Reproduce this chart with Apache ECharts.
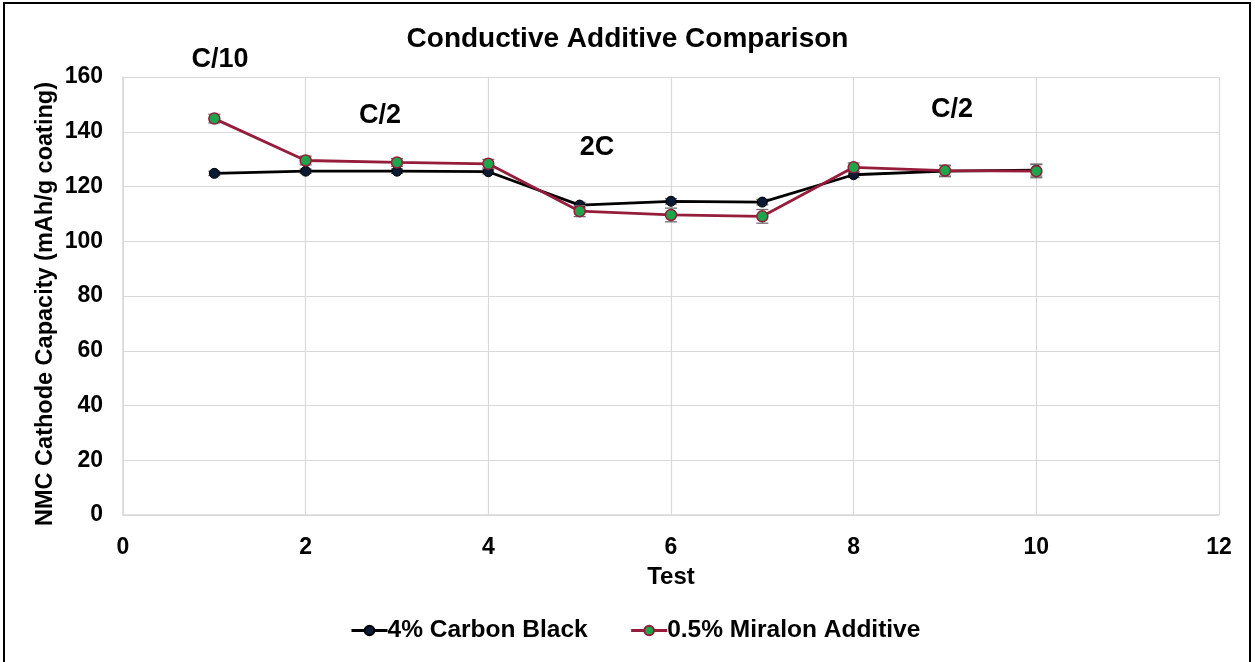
<!DOCTYPE html>
<html>
<head>
<meta charset="utf-8">
<script src="https://cdn.jsdelivr.net/npm/echarts@6/dist/echarts.min.js"></script>
<style>
  html, body { margin: 0; padding: 0; background: #fff; }
  #chart { width: 1255px; height: 662px; }
</style>
</head>
<body>
<div id="chart"></div>
<script>
// test number
var tests = [1, 2, 3, 4, 5, 6, 7, 8, 9, 10];
// 4% Carbon Black
var carbonBlack = [124.8, 125.6, 125.6, 125.4, 113.2, 114.6, 114.3, 124.3, 125.6, 126.0];
var carbonBlackErr = [0.8, 0.8, 0.8, 0.8, 1.0, 1.0, 1.0, 1.0, 2.0, 2.2];
// 0.5% Miralon Additive
var miralon = [144.8, 129.5, 128.8, 128.3, 111.0, 109.6, 109.1, 127.0, 125.8, 125.6];
var miralonErr = [1.6, 1.6, 1.4, 1.6, 2.0, 2.5, 2.5, 1.6, 2.0, 2.4];
// rate labels
var rateLabels = ['C/10', 'C/2', '2C', 'C/2'];

var font = '"Liberation Sans", Arial, sans-serif';

function pairs(ys) {
    var out = [];
    for (let i = 0; i < tests.length; i++) {
        out.push([tests[i], ys[i]]);
    }
    return out;
}
function errData(ys, errs) {
    var out = [];
    for (let i = 0; i < tests.length; i++) {
        out.push([tests[i], ys[i] - errs[i], ys[i] + errs[i]]);
    }
    return out;
}
function errBars(params, api) {
    var lo = api.coord([api.value(0), api.value(1)]);
    var hi = api.coord([api.value(0), api.value(2)]);
    var w = 6;
    var st = { stroke: '#6e6e6e', lineWidth: 1.3 };
    return {
        type: 'group',
        children: [
            { type: 'line', shape: { x1: lo[0], y1: lo[1], x2: hi[0], y2: hi[1] }, style: st },
            { type: 'line', shape: { x1: lo[0] - w, y1: lo[1], x2: lo[0] + w, y2: lo[1] }, style: st },
            { type: 'line', shape: { x1: hi[0] - w, y1: hi[1], x2: hi[0] + w, y2: hi[1] }, style: st }
        ]
    };
}

var myChart = echarts.init(document.getElementById('chart'));

var labelPos = [[220, 60], [380, 116], [597, 148], [952, 110]];
var rateText = rateLabels.map(function(t, i) {
    return {
        type: 'text',
        x: labelPos[i][0],
        y: labelPos[i][1],
        style: {
            text: t, font: 'bold 27px ' + font, fill: '#000',
            align: 'center', verticalAlign: 'middle'
        }
    };
});

var option = {
    animation: false,
    backgroundColor: '#fff',
    title: {
        text: 'Conductive Additive Comparison',
        left: 'center',
        top: 20,
        textStyle: { fontFamily: font, fontWeight: 'bold', fontSize: 28, color: '#000' }
    },
    grid: { left: 123, right: 36, top: 77, bottom: 147 },
    legend: {
        bottom: 14,
        left: 345,
        itemWidth: 36,
        itemHeight: 12,
        itemGap: 42,
        lineStyle: { width: 3 },
        data: ['4% Carbon Black', '0.5% Miralon Additive'],
        textStyle: { fontFamily: font, fontWeight: 'bold', fontSize: 24.5, color: '#000', padding: [0, 0, 0, -5] }
    },
    xAxis: {
        type: 'value',
        min: 0, max: 12, interval: 2,
        name: 'Test',
        nameLocation: 'middle',
        nameGap: 50,
        nameTextStyle: { fontFamily: font, fontWeight: 'bold', fontSize: 24, color: '#000' },
        axisLine: { show: true, lineStyle: { color: '#d9d9d9', width: 1.5 } },
        axisTick: { show: false },
        axisLabel: { margin: 21, fontFamily: font, fontWeight: 'bold', fontSize: 23, color: '#000' },
        splitLine: { show: true, lineStyle: { color: '#d9d9d9', width: 1.2 } }
    },
    yAxis: {
        type: 'value',
        min: 0, max: 160, interval: 20,
        name: 'NMC Cathode Capacity (mAh/g coating)',
        nameLocation: 'middle',
        nameGap: 65,
        nameMoveOverlap: false,
        nameTextStyle: { fontFamily: font, fontWeight: 'bold', fontSize: 23.5, color: '#000', padding: [0, 16, 0, 0] },
        axisLine: { show: true, lineStyle: { color: '#d9d9d9', width: 1.5 } },
        axisTick: { show: false },
        axisLabel: { margin: 20, fontFamily: font, fontWeight: 'bold', fontSize: 23, color: '#000' },
        splitLine: { show: true, lineStyle: { color: '#d9d9d9', width: 1.2 } }
    },
    graphic: [{
        type: 'rect',
        shape: { x: 4, y: 3, width: 1246, height: 670 },
        style: { fill: 'none', stroke: '#000', lineWidth: 2 },
        silent: true
    }].concat(rateText),
    series: [
        {
            name: '4% Carbon Black',
            type: 'line',
            data: pairs(carbonBlack),
            symbol: 'circle',
            symbolSize: 10,
            lineStyle: { color: '#000', width: 2.8 },
            itemStyle: { color: '#0b1a33', borderColor: '#000', borderWidth: 1 },
            z: 3
        },
        {
            name: 'err1',
            type: 'custom',
            data: errData(carbonBlack, carbonBlackErr),
            renderItem: errBars,
            z: 2
        },
        {
            name: '0.5% Miralon Additive',
            type: 'line',
            data: pairs(miralon),
            symbol: 'circle',
            symbolSize: 11,
            lineStyle: { color: '#951c3a', width: 2.8 },
            itemStyle: { color: '#1ea44a', borderColor: '#951c3a', borderWidth: 1.5 },
            z: 5
        },
        {
            name: 'err2',
            type: 'custom',
            data: errData(miralon, miralonErr),
            renderItem: errBars,
            z: 4
        }
    ]
};
myChart.setOption(option);
</script>
</body>
</html>
